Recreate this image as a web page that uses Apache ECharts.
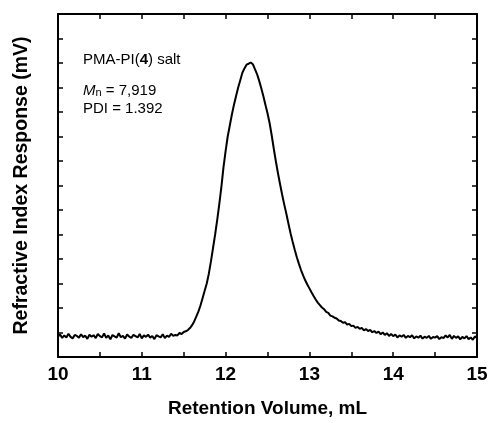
<!DOCTYPE html>
<html>
<head>
<meta charset="utf-8">
<script src="https://cdn.jsdelivr.net/npm/echarts@6/dist/echarts.min.js"></script>
<style>html,body{margin:0;padding:0;background:#fff}#c{width:494px;height:423px}</style>
</head>
<body>
<div id="c"></div>
<script>
// Retention volume (mL)
const volumes = [
 10.000,10.025,10.050,10.075,10.100,10.125,10.150,10.175,10.200,10.225,
 10.250,10.275,10.300,10.325,10.350,10.375,10.400,10.425,10.450,10.475,
 10.500,10.525,10.550,10.575,10.600,10.625,10.650,10.675,10.700,10.725,
 10.750,10.775,10.800,10.825,10.850,10.875,10.900,10.925,10.950,10.975,
 11.000,11.025,11.050,11.075,11.100,11.125,11.150,11.175,11.200,11.225,
 11.250,11.275,11.300,11.325,11.350,11.375,11.400,11.425,11.450,11.475,
 11.500,
 11.525,11.550,11.575,11.600,11.625,11.650,11.675,11.700,11.725,11.750,
 11.775,11.800,11.825,11.850,11.875,11.900,11.925,11.950,11.975,12.000,
 12.025,12.050,12.075,12.100,12.125,12.150,12.175,12.200,12.225,12.250,
 12.275,12.300,12.325,12.350,12.375,12.400,12.425,12.450,12.475,12.500,
 12.525,12.550,12.575,12.600,12.625,12.650,12.675,12.700,12.725,12.750,
 12.775,12.800,12.825,12.850,12.875,12.900,12.925,12.950,12.975,13.000,
 13.025,13.050,13.075,13.100,13.125,13.150,13.175,13.200,13.225,13.250,
 13.275,13.300,13.325,13.350,13.375,13.400,13.425,13.450,13.475,13.500,
 13.525,13.550,13.575,13.600,13.625,13.650,13.675,13.700,13.725,13.750,
 13.775,13.800,13.825,13.850,13.875,13.900,13.925,13.950,13.975,14.000,
 14.025,14.050,14.075,14.100,14.125,14.150,14.175,14.200,14.225,14.250,
 14.275,14.300,14.325,14.350,14.375,14.400,14.425,14.450,14.475,14.500,
 14.525,14.550,14.575,14.600,14.625,14.650,14.675,14.700,14.725,14.750,
 14.775,14.800,14.825,14.850,14.875,14.900,14.925,14.950,14.975,15.000
];
// Refractive index response (arbitrary units, axis 0..14)
const responses = [
 0.84,0.92,0.78,0.88,0.80,0.95,0.82,0.76,0.90,0.86,
 0.79,0.93,0.81,0.87,0.74,0.91,0.83,0.89,0.77,0.94,
 0.85,0.80,0.96,0.78,0.88,0.72,0.90,0.84,0.79,0.97,
 0.81,0.86,0.75,0.92,0.83,0.78,0.90,0.85,0.80,0.94,
 0.76,0.88,0.82,0.91,0.79,0.86,0.73,0.89,0.84,0.80,
 0.93,0.77,0.87,0.82,0.95,0.86,0.90,0.88,0.98,0.94,
 1.02,
 1.05,1.10,1.18,1.30,1.45,1.65,1.85,2.10,2.40,2.70,
 3.00,3.40,3.90,4.45,5.00,5.60,6.25,6.95,7.75,8.40,
 9.00,9.45,9.90,10.30,10.65,11.00,11.30,11.60,11.78,11.93,
 11.97,12.02,11.95,11.75,11.55,11.28,10.98,10.65,10.30,9.95,
 9.55,9.05,8.50,7.98,7.50,7.05,6.62,6.22,5.85,5.44,
 5.05,4.70,4.38,4.07,3.80,3.55,3.33,3.13,2.96,2.80,
 2.64,2.49,2.35,2.22,2.12,2.02,1.95,1.84,1.80,1.69,
 1.66,1.60,1.57,1.49,1.47,1.40,1.42,1.32,1.35,1.26,
 1.28,1.19,1.23,1.15,1.19,1.09,1.14,1.06,1.11,1.01,
 1.06,0.98,1.04,0.93,1.00,0.90,0.97,0.86,0.94,0.85,
 0.92,0.80,0.88,0.83,0.90,0.78,0.86,0.81,0.89,0.76,
 0.84,0.79,0.87,0.75,0.83,0.78,0.86,0.74,0.82,0.79,
 0.85,0.73,0.81,0.77,0.88,0.80,0.90,0.74,0.86,0.78,
 0.84,0.72,0.82,0.76,0.85,0.73,0.80,0.70,0.84,0.78
];
const xTicks = ['10','11','12','13','14','15'];
const annotationLines = ['PMA-PI(', '4', ') salt', 'M', 'n', ' = 7,919', 'PDI = 1.392'];

const FONT = '"Liberation Sans", Arial, sans-serif';
const chart = echarts.init(document.getElementById('c'), null, {renderer: 'canvas'});
const axisLine = {show: true, onZero: false, lineStyle: {color: '#000', width: 2}};
const axisTick = {show: true, inside: true, length: 5, lineStyle: {color: '#000', width: 1.5}};

chart.setOption({
  animation: false,
  backgroundColor: '#fff',
  grid: {left: 58, right: 17, top: 14, bottom: 66, containLabel: false},
  xAxis: [{
    type: 'value', min: 10, max: 15, interval: 0.5, position: 'bottom',
    axisLine, axisTick, splitLine: {show: false},
    axisLabel: {
      margin: 8, color: '#000', fontFamily: FONT, fontWeight: 'bold', fontSize: 19,
      formatter: v => (Math.abs(v - Math.round(v)) < 1e-6 && xTicks.includes(String(Math.round(v)))) ? String(Math.round(v)) : ''
    },
    name: 'Retention Volume, mL', nameLocation: 'middle', nameGap: 42,
    nameTextStyle: {color: '#000', fontFamily: FONT, fontWeight: 'bold', fontSize: 19}
  }, {
    type: 'value', min: 10, max: 15, interval: 0.5, position: 'top',
    axisLine, axisTick, splitLine: {show: false}, axisLabel: {show: false}
  }],
  yAxis: [{
    type: 'value', min: 0, max: 14, interval: 1, position: 'left',
    axisLine, axisTick, splitLine: {show: false}, axisLabel: {show: false},
    name: 'Refractive Index Response (mV)', nameLocation: 'middle', nameGap: 26,
    nameTextStyle: {color: '#000', fontFamily: FONT, fontWeight: 'bold', fontSize: 19.5}
  }, {
    type: 'value', min: 0, max: 14, interval: 1, position: 'right',
    axisLine, axisTick, splitLine: {show: false}, axisLabel: {show: false}
  }],
  graphic: [{
    type: 'text', left: 83, top: 52,
    style: {
      text: '{r|' + annotationLines[0] + '}{b|' + annotationLines[1] + '}{r|' + annotationLines[2] + '}',
      rich: {
        r: {fontFamily: FONT, fontSize: 15, fill: '#000'},
        b: {fontFamily: FONT, fontSize: 15, fontWeight: 'bold', fill: '#000'}
      }
    }
  }, {
    type: 'text', left: 83, top: 83,
    style: {
      text: '{i|' + annotationLines[3] + '}{s|' + annotationLines[4] + '}{r|' + annotationLines[5] + '}',
      rich: {
        i: {fontFamily: FONT, fontSize: 15, fontStyle: 'italic', fill: '#000'},
        s: {fontFamily: FONT, fontSize: 11, fill: '#000', padding: [4, 0, 0, 0]},
        r: {fontFamily: FONT, fontSize: 15, fill: '#000'}
      }
    }
  }, {
    type: 'text', left: 83, top: 101,
    style: {text: annotationLines[6], fontFamily: FONT, fontSize: 15, fill: '#000'}
  }],
  series: [{
    type: 'line', xAxisIndex: 0, yAxisIndex: 0,
    data: volumes.map((v, i) => [v, responses[i]]),
    showSymbol: false, symbol: 'none', smooth: false,
    lineStyle: {color: '#000', width: 2}
  }]
});
</script>
</body>
</html>
